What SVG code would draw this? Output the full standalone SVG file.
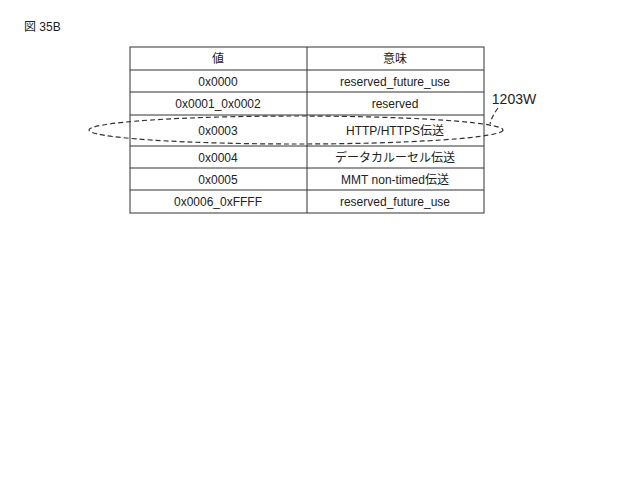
<svg xmlns="http://www.w3.org/2000/svg" width="622" height="488" viewBox="0 0 622 488">
<style>
text{font-family:"Liberation Sans","Noto Sans CJK JP",sans-serif;font-size:12px;fill:#222;text-anchor:middle}
.l{stroke:#333;stroke-width:1;fill:none}
.d{stroke:#333;stroke-width:1.2;fill:none;stroke-dasharray:5,3}
</style>
<rect width="622" height="488" fill="#fff"/>
<text x="24" y="31" style="text-anchor:start">図 35B</text>
<g id="table">
<rect class="l" x="130" y="47" width="354" height="166" stroke-width="1.5"/>
<line class="l" x1="307" y1="47" x2="307" y2="213"/>
<line class="l" x1="130" y1="70" x2="484" y2="70"/>
<line class="l" x1="130" y1="92" x2="484" y2="92"/>
<line class="l" x1="130" y1="115" x2="484" y2="115"/>
<line class="l" x1="130" y1="146" x2="484" y2="146"/>
<line class="l" x1="130" y1="168" x2="484" y2="168"/>
<line class="l" x1="130" y1="190" x2="484" y2="190"/>
<text x="218" y="63">値</text><text x="395" y="63">意味</text>
<text x="218" y="86">0x0000</text><text x="395" y="86">reserved_future_use</text>
<text x="218" y="108">0x0001_0x0002</text><text x="395" y="108">reserved</text>
<text x="218" y="135">0x0003</text><text x="395" y="135">HTTP/HTTPS伝送</text>
<text x="218" y="162">0x0004</text><text x="395" y="162">データカルーセル伝送</text>
<text x="218" y="184">0x0005</text><text x="395" y="184">MMT non-timed伝送</text>
<text x="218" y="206">0x0006_0xFFFF</text><text x="395" y="206">reserved_future_use</text>
</g>
<g id="callout">
<ellipse class="d" cx="296" cy="130" rx="207" ry="14"/>
<path class="d" d="M498 108 Q492 116 490 124"/>
<text x="514" y="104" style="font-size:14px">1203W</text>
</g>
</svg>
